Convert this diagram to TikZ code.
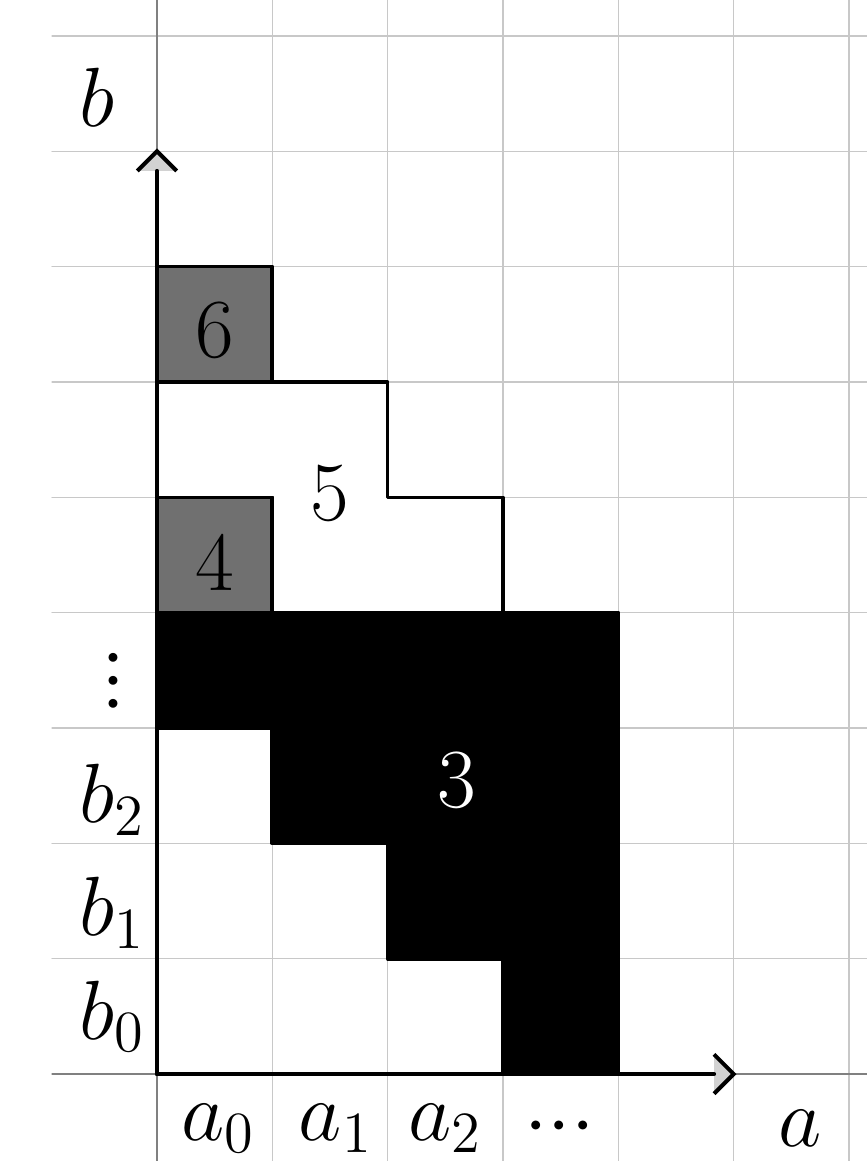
\documentclass[tikz,border=0pt]{standalone}
\definecolor{cellgray}{RGB}{112,112,112}
\definecolor{gridgray}{RGB}{200,200,200}
\definecolor{tipgray}{RGB}{210,210,210}
\tikzset{
  gridline/.style={color=gridgray,line width=0.3pt},
  region/.style={draw=black,line width=0.9pt},
  axis/.style={line width=1pt},
  lbl/.style={font=\fontsize{20}{24}\selectfont},
}
\begin{document}
\begin{tikzpicture}[line cap=round,line join=round,x=1.0cm,y=1.0cm]
	\useasboundingbox (-1.361,-0.754) rectangle (6.156,9.312);
	% grid
	\foreach \y in {1,...,9} \draw[gridline] (-0.91,\y) -- (6.156,\y);
	\foreach \x in {1,...,6} \draw[gridline] (\x,-0.754) -- (\x,9.312);
	\draw[color=gray,line width=0.3pt] (-0.91,0) -- (6.156,0);
	\draw[color=gray,line width=0.3pt] (0,-0.754) -- (0,9.312);
	% regions
	\fill[color=white,region] (0,5) -- (1,5) -- (1,4) -- (3,4) -- (3,5) -- (2,5) -- (2,6) -- (0,6) -- cycle;
	\fill[color=black,region] (0,4) -- (4,4) -- (4,0) -- (3,0) -- (3,1) -- (2,1) -- (2,2) -- (1,2) -- (1,3) -- (0,3) -- cycle;
	\filldraw[fill=cellgray,region] (0,4) rectangle (1,5);
	\filldraw[fill=cellgray,region] (0,6) rectangle (1,7);
	\node[lbl] (r3) at (2.6,2.55) {\textcolor{white}{$3$}};
	\node[lbl] (r4) at (0.5,4.43) {$4$};
	\node[lbl] (r5) at (1.5,5.03) {$5$};
	\node[lbl] (r6) at (0.5,6.45) {$6$};
	% axes
	\coordinate (O) at (0,0);
	\coordinate (xtip) at (5.0,0);
	\coordinate (ytip) at (0,8.0);
	\fill[tipgray] (xtip) -- ++(-0.17,0.17) -- ++(0,-0.34) -- cycle;
	\fill[tipgray] (ytip) -- ++(-0.17,-0.17) -- ++(0.34,0) -- cycle;
	\draw[axis] (O) -- ([xshift=-0.17cm]xtip);
	\draw[axis] (O) -- ([yshift=-0.17cm]ytip);
	\draw[axis,line cap=butt,line join=miter] ([shift={(-0.17,0.17)}]xtip) -- (xtip) -- ++(-0.17,-0.17);
	\draw[axis,line cap=butt,line join=miter] ([shift={(-0.17,-0.17)}]ytip) -- (ytip) -- ++(0.17,-0.17);
	% labels
	\node[lbl] (b) at (-0.52,8.47) {$b$};
	\node[lbl] (b0) at (-0.39,0.5) {$b_0$};
	\node[lbl] (b1) at (-0.39,1.4) {$b_1$};
	\node[lbl] (b2) at (-0.39,2.38) {$b_2$};
	\node[lbl,rotate=90] (bdots) at (-0.36,3.41) {${\cdot}{\cdot}{\cdot}$};
	\node[lbl] (a0) at (0.53,-0.47) {$a_0$};
	\node[lbl] (a1) at (1.55,-0.47) {$a_1$};
	\node[lbl] (a2) at (2.5,-0.47) {$a_2$};
	\node[lbl] (adots) at (3.49,-0.47) {${\cdot}{\cdot}{\cdot}$};
	\node[lbl] (a) at (5.58,-0.47) {$a$};
\end{tikzpicture}
\end{document}
